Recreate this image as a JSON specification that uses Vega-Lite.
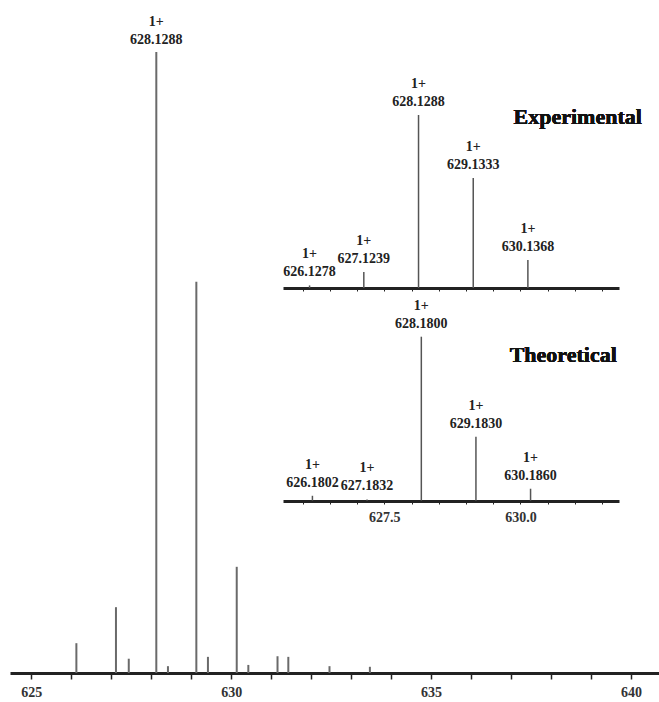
{
  "$schema": "https://vega.github.io/schema/vega-lite/v6.json",
  "autosize": {"type": "none"},
  "width": 649,
  "height": 673,
  "padding": {"left": 10, "top": 0, "right": 0, "bottom": 29},
  "background": "white",
  "config": {
    "view": {"stroke": null},
    "font": "Liberation Serif",
    "text": {"font": "Liberation Serif", "fontWeight": "bold", "fontSize": 14, "color": "#222"}
  },
  "datasets": {
    "main": [
      {"mz": 626.13, "intensity": 4.8, "label": ""},
      {"mz": 627.12, "intensity": 10.6, "label": ""},
      {"mz": 627.44, "intensity": 2.3, "label": ""},
      {"mz": 628.1288, "intensity": 100, "label": "1+\n628.1288"},
      {"mz": 628.42, "intensity": 1.1, "label": ""},
      {"mz": 629.13, "intensity": 63.0, "label": ""},
      {"mz": 629.42, "intensity": 2.6, "label": ""},
      {"mz": 630.14, "intensity": 17.1, "label": ""},
      {"mz": 630.43, "intensity": 1.3, "label": ""},
      {"mz": 631.16, "intensity": 2.7, "label": ""},
      {"mz": 631.43, "intensity": 2.6, "label": ""},
      {"mz": 632.46, "intensity": 1.1, "label": ""},
      {"mz": 633.47, "intensity": 1.0, "label": ""}
    ],
    "exp": [
      {"mz": 626.1278, "intensity": 1.5, "label": "1+\n626.1278"},
      {"mz": 627.1239, "intensity": 9.2, "label": "1+\n627.1239"},
      {"mz": 628.1288, "intensity": 100, "label": "1+\n628.1288"},
      {"mz": 629.1333, "intensity": 63.6, "label": "1+\n629.1333"},
      {"mz": 630.1368, "intensity": 16.2, "label": "1+\n630.1368"}
    ],
    "theo": [
      {"mz": 626.1802, "intensity": 3.0, "label": "1+\n626.1802"},
      {"mz": 627.1832, "intensity": 0.8, "label": "1+\n627.1832"},
      {"mz": 628.18, "intensity": 100, "label": "1+\n628.1800"},
      {"mz": 629.183, "intensity": 39, "label": "1+\n629.1830"},
      {"mz": 630.186, "intensity": 7.3, "label": "1+\n630.1860"}
    ]
  },
  "layer": [
    {
      "data": {"name": "main"},
      "encoding": {
        "x": {
          "field": "mz", "type": "quantitative",
          "scale": {"domain": [624.47, 640.7], "nice": false, "zero": false},
          "axis": {
            "orient": "bottom",
            "values": [625, 626, 627, 628, 629, 630, 631, 632, 633, 634, 635, 636, 637, 638, 639, 640],
            "labelExpr": "datum.value % 5 === 0 ? datum.label : ''",
            "title": null, "grid": false,
            "tickSize": 6, "tickWidth": 1.5, "tickColor": "#222",
            "domainWidth": 3, "domainColor": "#222",
            "labelFont": "Liberation Serif", "labelFontWeight": "bold", "labelFontSize": 14,
            "labelColor": "#333", "labelPadding": 6
          }
        },
        "y": {
          "field": "intensity", "type": "quantitative",
          "scale": {"domain": [0, 100], "range": [673, 52], "nice": false},
          "axis": null
        }
      },
      "layer": [
        {"mark": {"type": "rule", "strokeWidth": 2, "color": "#6a6a6a"}, "encoding": {"y2": {"datum": 0}}},
        {
          "transform": [{"filter": "datum.label !== ''"}],
          "mark": {"type": "text", "baseline": "bottom", "align": "center", "lineBreak": "\n", "lineHeight": 18, "dy": -23},
          "encoding": {"text": {"field": "label"}}
        }
      ]
    },
    {
      "data": {"name": "exp"},
      "encoding": {
        "x": {
          "field": "mz", "type": "quantitative",
          "scale": {"domain": [625.64, 631.81], "range": [273, 609], "nice": false, "zero": false},
          "axis": {
            "orient": "bottom",
            "values": [626, 626.5, 627, 627.5, 628, 628.5, 629, 629.5, 630, 630.5, 631, 631.5],
            "labels": false, "title": null, "grid": false, "offset": -385,
            "tickSize": 3, "tickWidth": 1, "tickColor": "#222",
            "domainWidth": 3, "domainColor": "#222"
          }
        },
        "y": {
          "field": "intensity", "type": "quantitative",
          "scale": {"domain": [0, 100], "range": [288, 115], "nice": false},
          "axis": null
        }
      },
      "layer": [
        {"mark": {"type": "rule", "strokeWidth": 1.5, "color": "#555"}, "encoding": {"y2": {"datum": 0}}},
        {
          "mark": {"type": "text", "baseline": "bottom", "align": "center", "lineBreak": "\n", "lineHeight": 18, "dy": -24},
          "encoding": {"text": {"field": "label"}}
        },
        {
          "mark": {"type": "text", "align": "right", "baseline": "middle", "fontSize": 22, "color": "#111"},
          "encoding": {"x": {"datum": 632.23}, "y": {"datum": 99}, "text": {"value": "Experimental"}}
        }
      ]
    },
    {
      "data": {"name": "theo"},
      "encoding": {
        "x": {
          "field": "mz", "type": "quantitative",
          "scale": {"domain": [625.64, 631.81], "range": [273, 609], "nice": false, "zero": false},
          "axis": {
            "orient": "bottom",
            "values": [626, 626.5, 627, 627.5, 628, 628.5, 629, 629.5, 630, 630.5, 631, 631.5],
            "labelExpr": "datum.value === 627.5 || datum.value === 630 ? format(datum.value, '.1f') : ''",
            "title": null, "grid": false, "offset": -172,
            "tickSize": 3, "tickWidth": 1, "tickColor": "#222",
            "domainWidth": 3, "domainColor": "#222",
            "labelFont": "Liberation Serif", "labelFontWeight": "bold", "labelFontSize": 14,
            "labelColor": "#333", "labelPadding": 6
          }
        },
        "y": {
          "field": "intensity", "type": "quantitative",
          "scale": {"domain": [0, 100], "range": [500.7, 336.7], "nice": false},
          "axis": null
        }
      },
      "layer": [
        {"mark": {"type": "rule", "strokeWidth": 1.5, "color": "#555"}, "encoding": {"y2": {"datum": 0}}},
        {
          "mark": {"type": "text", "baseline": "bottom", "align": "center", "lineBreak": "\n", "lineHeight": 18, "dy": -24},
          "encoding": {"text": {"field": "label"}}
        },
        {
          "mark": {"type": "text", "align": "right", "baseline": "middle", "fontSize": 22, "color": "#111"},
          "encoding": {"x": {"datum": 631.77}, "y": {"datum": 88.8}, "text": {"value": "Theoretical"}}
        }
      ]
    }
  ],
  "resolve": {"scale": {"x": "independent", "y": "independent"}, "axis": {"x": "independent", "y": "independent"}}
}
